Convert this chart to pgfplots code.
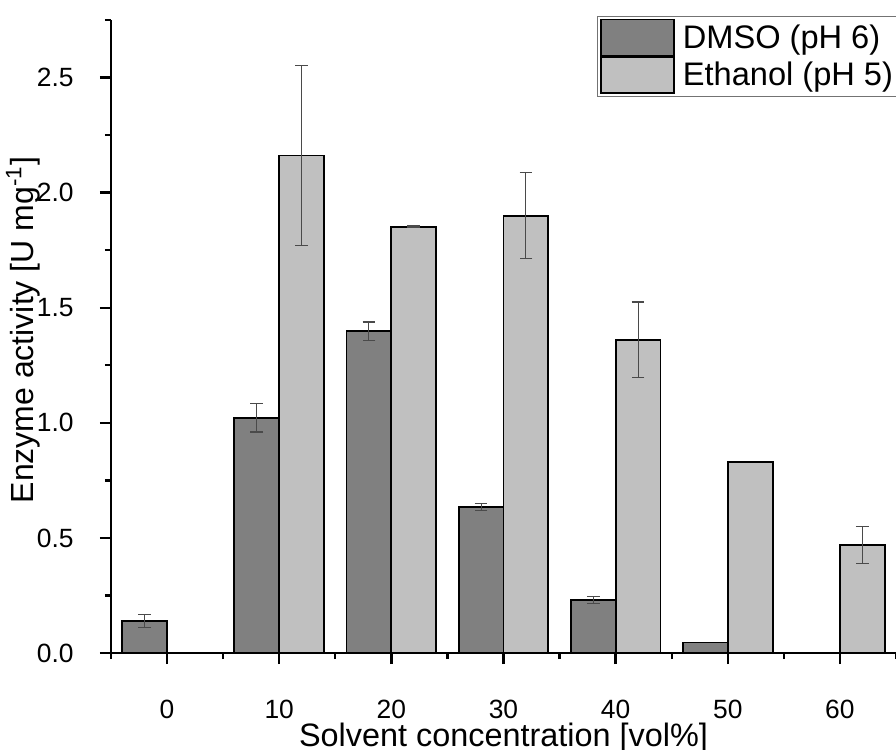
\documentclass[border=0pt]{standalone}
\usepackage{fontspec}
\setmainfont{Liberation Sans}
\usepackage{pgfplots}
\pgfplotsset{compat=1.18}
\usetikzlibrary{calc}
\definecolor{dmso}{HTML}{808080}
\definecolor{etoh}{HTML}{C0C0C0}
\definecolor{errc}{HTML}{4A4A4A}

\pgfplotsset{
  mybar/.style={ybar, bar width=4, bar shift=0, draw=black, line width=0.9pt,
    legend image code/.code={\draw[##1, draw=black, line width=0.7pt] (0pt,-9pt) rectangle (36.5pt,9pt);}},
  myerr/.style={error bars/.cd, y dir=both, y explicit,
    error bar style={errc, line width=0.55pt},
    error mark options={rotate=90, errc, mark size=3.2pt, line width=0.55pt}},
}

\begin{document}
\begin{tikzpicture}
\begin{axis}[
  scale only axis,
  width=392.5pt, height=316.5pt,
  xmin=-5, xmax=65,
  ymin=0, ymax=2.75,
  axis x line=bottom, axis y line=left,
  axis line style={line width=1.3pt, -},
  tick align=outside,
  xtick={0,10,...,60},
  minor xtick={-5,5,...,65},
  ytick={0,0.5,...,2.5},
  minor ytick={0.25,0.75,...,2.75},
  major tick length=5.5pt, minor tick length=3pt,
  every tick/.style={black, line width=1.2pt},
  /pgf/number format/assume math mode=true,
  tick label style={font=\fontsize{13.2}{15}\selectfont},
  xticklabel style={anchor=north, inner sep=0pt, yshift=-18pt},
  yticklabel style={anchor=east, inner sep=0pt, xshift=-13pt,
    /pgf/number format/fixed, /pgf/number format/fixed zerofill,
    /pgf/number format/precision=1},
  xlabel={Solvent concentration [vol\%]},
  ylabel={Enzyme activity [U mg\textsuperscript{-1}]},
  xlabel style={font=\fontsize{16.2}{19}\selectfont, at={(rel axis cs:0.5,-0.147)}, anchor=base},
  ylabel style={font=\fontsize{16}{19}\selectfont, at={(rel axis cs:0,0.51)}, anchor=base, yshift=38.5pt},
  legend cell align=left,
  legend style={at={(rel axis cs:0.619,1.007)}, anchor=north west,
    draw=black!55, line width=0.5pt, inner xsep=1.5pt, inner ysep=1.5pt,
    row sep=0pt, font=\fontsize{16.3}{19}\selectfont,
    nodes={inner sep=1pt},
    /tikz/every odd column/.append style={column sep=3pt}},
]
\coordinate (bl) at (rel axis cs:0,0);
\coordinate (tr) at (rel axis cs:1,1);
% DMSO (pH 6), bars centred 2 left of each concentration
\addplot[mybar, fill=dmso, myerr] coordinates {
  (-2,0.139) +- (0,0.030)
  (8,1.022) +- (0,0.062)
  (18,1.398) +- (0,0.040)
  (28,0.633) +- (0,0.015)
  (38,0.229) +- (0,0.015)
};
% Ethanol (pH 5), bars centred 2 right of each concentration
\addplot[mybar, fill=etoh, myerr] coordinates {
  (12,2.161) +- (0,0.390)
  (22,1.851) +- (0,0.004)
  (32,1.900) +- (0,0.186)
  (42,1.360) +- (0,0.165)
  (62,0.469) +- (0,0.080)
};
% bars without error bars
\addplot[mybar, fill=dmso, forget plot] coordinates {(48,0.046)};
\addplot[mybar, fill=etoh, forget plot] coordinates {(52,0.831)};
\legend{DMSO (pH 6), Ethanol (pH 5)}
\end{axis}
\pgfresetboundingbox
\useasboundingbox ($(bl)+(-55.5pt,-48pt)$) rectangle ($(tr)+(0pt,10pt)$);
\end{tikzpicture}
\end{document}
